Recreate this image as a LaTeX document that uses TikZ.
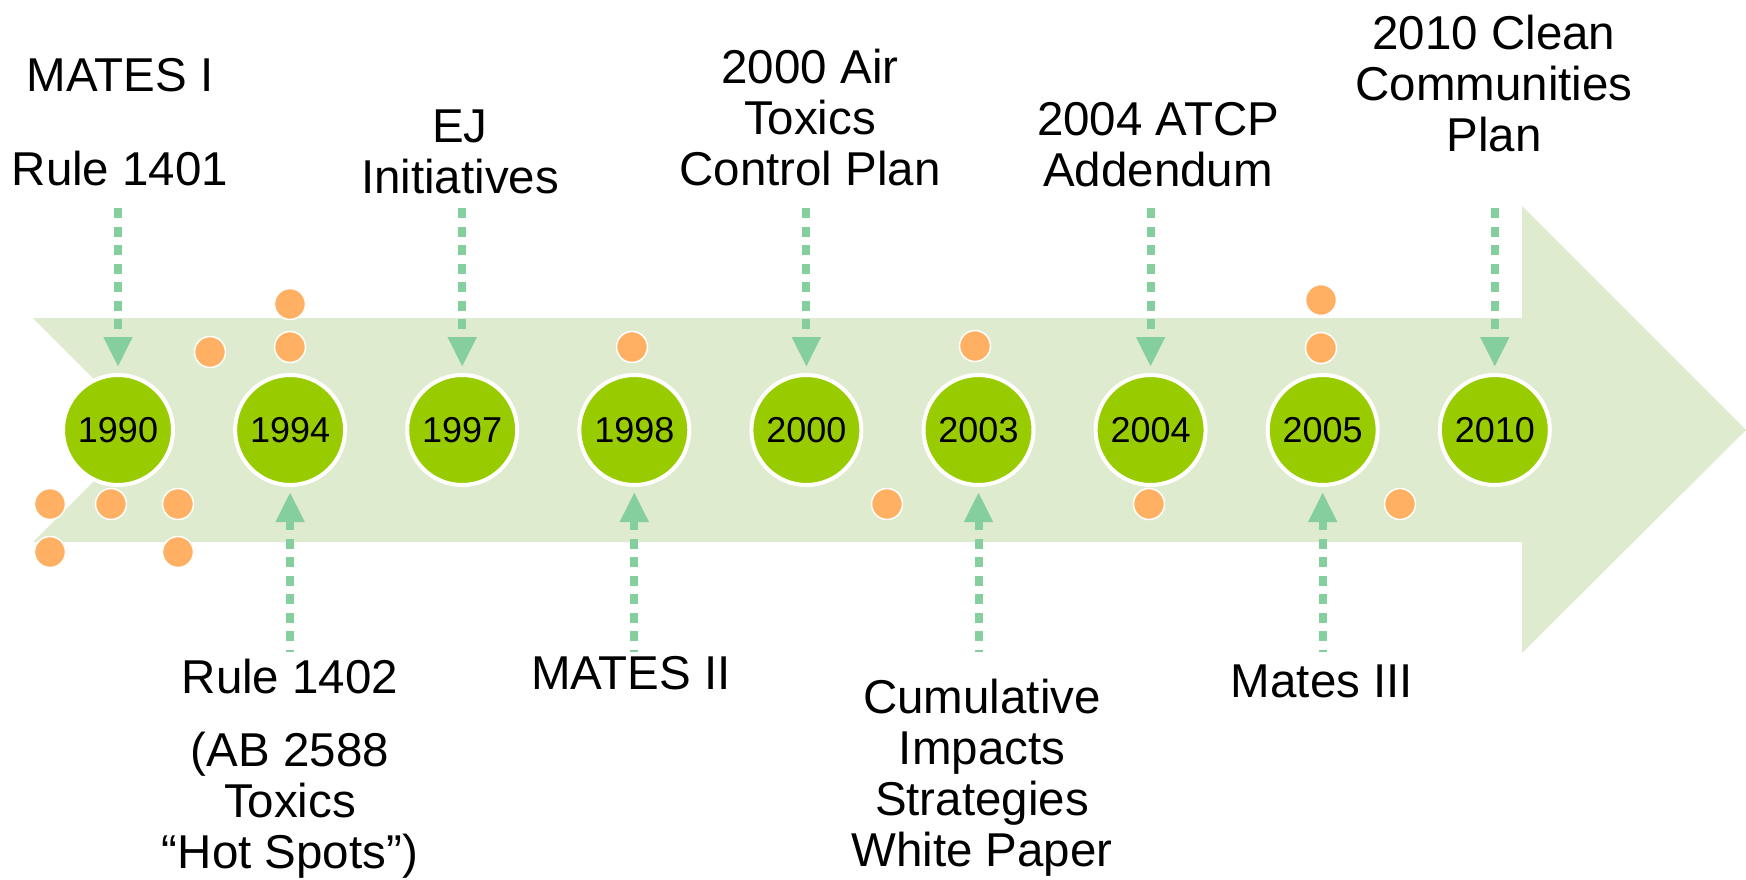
\documentclass[tikz,border=0pt]{standalone}
\usepackage{fontspec}
\setmainfont{Liberation Sans}
\usetikzlibrary{arrows.meta}
\definecolor{bandgreen}{RGB}{223,235,206}
\definecolor{yeargreen}{RGB}{153,204,0}
\definecolor{dotorange}{RGB}{255,176,98}
\definecolor{ptrgreen}{RGB}{80,185,115}
\tikzset{
  yearc/.style={circle,fill=yeargreen,draw=white,line width=4pt,minimum size=110pt,inner sep=0pt,font=\fontsize{36}{40}\selectfont},
  dot/.style={circle,fill=dotorange,draw=white,line width=1.5pt,minimum size=31pt,inner sep=0pt},
  lbl/.style={align=center,inner sep=0pt,font=\fontsize{47.5}{51}\selectfont},
  ptr/.style={ptrgreen!70,line width=8pt,dash pattern=on 10pt off 8.5pt},
}
\begin{document}
\begin{tikzpicture}[x=1pt,y=-1pt]
\useasboundingbox (0,0) rectangle (1746,879);
% band
\fill[bandgreen] (33,318)--(1522,318)--(1522,206)--(1746,430)--(1522,653)--(1522,542)--(33,542)--(145,430)--cycle;
% years
\foreach \yr [count=\i from 0] in {1990,1994,1997,1998,2000,2003,2004,2005,2010} {\node[yearc] (c\yr) at ({118+172.1*\i},430) {\yr};}
% dots
\foreach \x/\y [count=\n] in {210/352,290/304,290/347,50/504,111/504,178/504,50/552,178/552,632/347,887/504,975/346,1149/504,1321/300,1321/348,1400/504} {\node[dot] (d\n) at (\x,\y) {};}
% pointers
\foreach \yr in {1990,1997,2000,2004,2010} {\coordinate (t\yr) at (c\yr |- 0,208); \draw[ptr,-{Triangle[width=27pt,length=30pt]},shorten >=6pt] (t\yr) -- (c\yr);}
\foreach \yr in {1994,1998,2003,2005} {\coordinate (b\yr) at (c\yr |- 0,652); \draw[ptr,{Triangle[width=27pt,length=30pt]}-,shorten <=5pt] (c\yr) -- (b\yr);}
% labels
\node[lbl] (l1990) at (120,122) {MATES I\\[43pt]Rule 1401};
\node[lbl] (l1997) at (460,152) {EJ\\Initiatives};
\node[lbl] (l2000) at (810,118) {2000 Air\\Toxics\\Control Plan};
\node[lbl] (l2004) at (1158,145) {2004 ATCP\\Addendum};
\node[lbl] (l2010) at (1494,84) {2010 Clean\\Communities\\Plan};
\node[lbl] (l1994) at (290,769) {Rule 1402\\[22pt](AB 2588\\Toxics\\“Hot Spots”)};
\node[lbl] (l1998) at (631,673) {MATES II};
\node[lbl] (l2003) at (982,778) {Cumulative\\Impacts\\Strategies\\White Paper};
\node[lbl] (l2005) at (1322,681) {Mates III};
\end{tikzpicture}
\end{document}
